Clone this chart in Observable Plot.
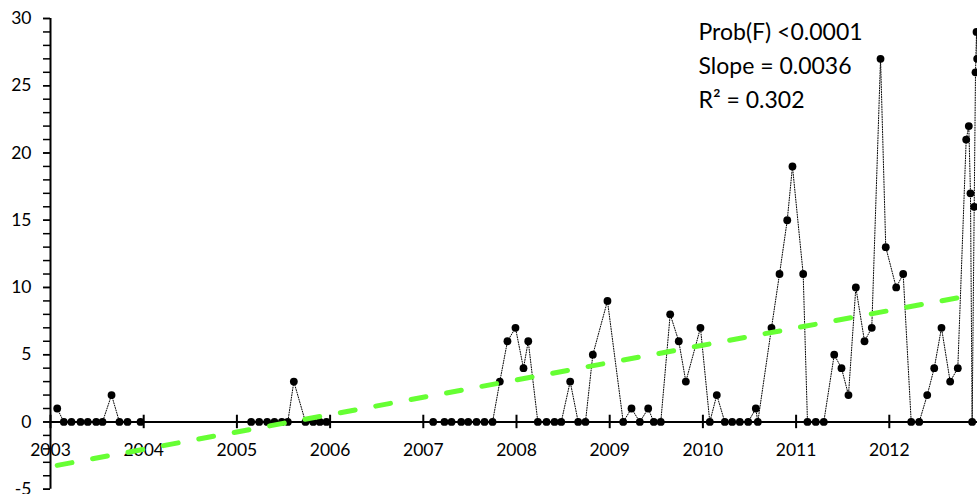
<!DOCTYPE html>
<html>
<head>
<meta charset="utf-8">
<script src="https://cdn.jsdelivr.net/npm/d3@7"></script>
<script src="https://cdn.jsdelivr.net/npm/@observablehq/plot@0.6"></script>
<style>
  html, body { margin: 0; padding: 0; background: #fff; }
</style>
</head>
<body>
<div id="chart"></div>
<script>
// Sampling dates (decimal years)
const dates = [
  2003.072, 2003.143, 2003.225, 2003.322, 2003.400, 2003.490, 2003.558, 2003.655, 2003.740, 2003.826, 2003.966,
  2005.153, 2005.239, 2005.325, 2005.403, 2005.482, 2005.546, 2005.611, 2005.736, 2005.819, 2005.890, 2005.961,
  2007.106, 2007.227, 2007.303, 2007.407, 2007.482, 2007.571, 2007.657, 2007.743, 2007.821, 2007.903, 2007.989,
  2008.075, 2008.126, 2008.229, 2008.322, 2008.408, 2008.480, 2008.576, 2008.662, 2008.740, 2008.819, 2008.976,
  2009.145, 2009.234, 2009.323, 2009.413, 2009.473, 2009.548, 2009.649, 2009.741, 2009.817, 2009.974,
  2010.074, 2010.149, 2010.235, 2010.314, 2010.396, 2010.486, 2010.568, 2010.589, 2010.736, 2010.822, 2010.905, 2010.961,
  2011.076, 2011.122, 2011.211, 2011.297, 2011.409, 2011.487, 2011.562, 2011.641, 2011.734, 2011.812, 2011.906, 2011.962,
  2012.074, 2012.149, 2012.235, 2012.321, 2012.407, 2012.482, 2012.560, 2012.653, 2012.735, 2012.825, 2012.853,
  2012.871, 2012.889, 2012.911, 2012.925, 2012.936, 2012.943
];
// Counts
const counts = [
  1, 0, 0, 0, 0, 0, 0, 2, 0, 0, 0,
  0, 0, 0, 0, 0, 0, 3, 0, 0, 0, 0,
  0, 0, 0, 0, 0, 0, 0, 0, 3, 6, 7,
  4, 6, 0, 0, 0, 0, 3, 0, 0, 5, 9,
  0, 1, 0, 1, 0, 0, 8, 6, 3, 7,
  0, 2, 0, 0, 0, 0, 1, 0, 7, 11, 15, 19,
  11, 0, 0, 0, 5, 4, 2, 10, 6, 7, 27, 13,
  10, 11, 0, 0, 2, 4, 7, 3, 4, 21, 22,
  17, 0, 16, 26, 29, 27
];

const yearTicks = [2003, 2004, 2005, 2006, 2007, 2008, 2009, 2010, 2011, 2012];
const yMajorTicks = [-5, 0, 5, 10, 15, 20, 25, 30];
const yMinorTicks = [-5,-4,-3,-2,-1,0,1,2,3,4,5,6,7,8,9,10,11,12,13,14,15,16,17,18,19,20,21,22,23,24,25,26,27,28,29,30];
const xDomain = [2003, 2013];
const yDomain = [-5, 30];
const statsLines = ["Prob(F) <0.0001", "Slope = 0.0036", "R\u00B2 = 0.302"];

const data = dates.map((t, i) => ({t, v: counts[i]}));

const chart = Plot.plot({
  width: 977,
  height: 494,
  marginLeft: 50,
  marginRight: 0,
  marginTop: 18,
  marginBottom: 5,
  style: {fontFamily: "Lato, sans-serif", background: "#fff", color: "#000"},
  x: {domain: xDomain, range: [50, 982], axis: null},
  y: {domain: yDomain, range: [488.7, 18], axis: null},
  marks: [
    Plot.ruleY([0], {x1: xDomain[0], x2: xDomain[1], stroke: "#000", strokeWidth: 2}),
    Plot.ruleX(yearTicks, {x: d => d, y1: -0.5, y2: 0.5, stroke: "#000", strokeWidth: 2}),
    Plot.ruleX([xDomain[0]], {y1: yDomain[0], y2: yDomain[1], stroke: "#000", strokeWidth: 2}),
    Plot.axisY({ticks: yMinorTicks, tickSize: 7, tickFormat: () => "", label: null, strokeWidth: 1.5}),
    Plot.axisY({ticks: yMajorTicks, tickSize: 7, tickPadding: 12, tickFormat: d => String(d), label: null, fontSize: 17.5, strokeWidth: 1.5}),
    Plot.text(yearTicks, {x: d => d, y: 0, dy: 28, text: d => String(d), fontSize: 17.5, fill: "#000"}),
    Plot.line(data, {x: "t", y: "v", stroke: "#000", strokeWidth: 1, strokeDasharray: "1,1.5"}),
    Plot.dot(data, {x: "t", y: "v", r: 3.9, fill: "#000", stroke: "none"}),
    Plot.linearRegressionY(data, {x: "t", y: "v", ci: 0, stroke: "#66ff33", strokeWidth: 5, strokeDasharray: "15,21", strokeLinecap: "round"}),
    Plot.text([statsLines.join("\n")], {frameAnchor: "top-left", dx: 648, dy: -2, textAnchor: "start", lineAnchor: "top", lineHeight: 1.46, fontSize: 23, fill: "#000"})
  ]
});
document.getElementById("chart").appendChild(chart);
</script>
</body>
</html>
